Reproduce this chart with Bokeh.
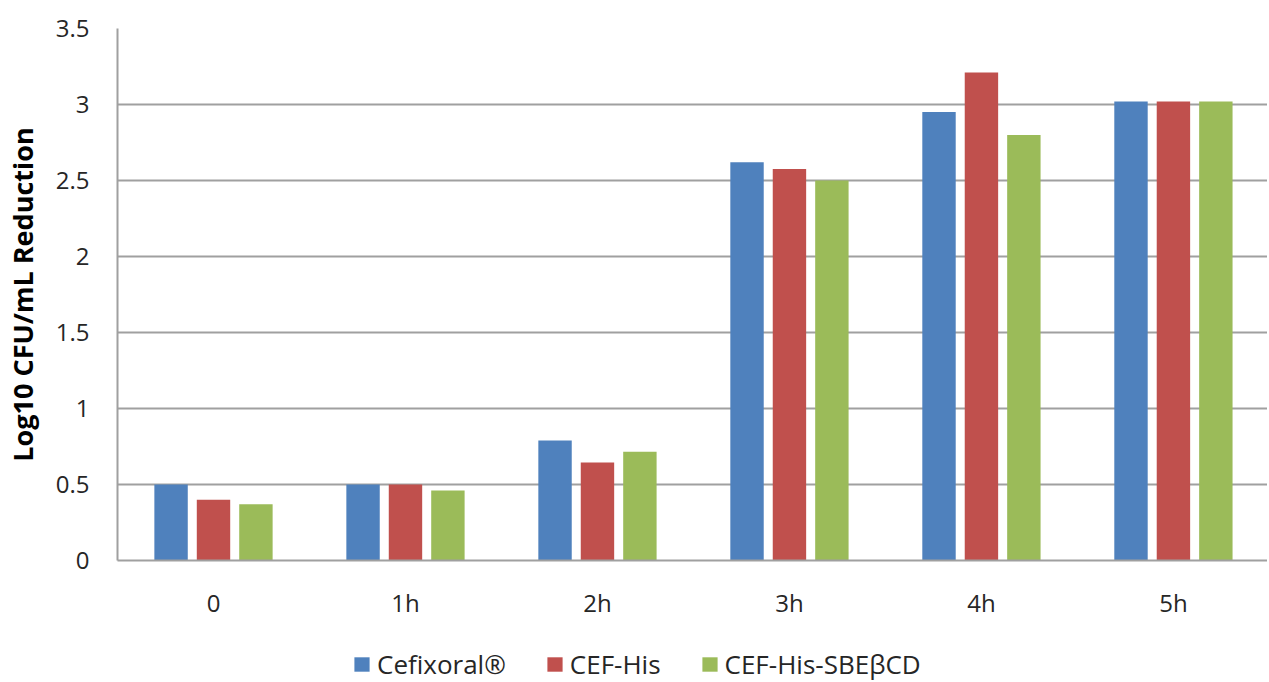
import numpy as np
from bokeh.plotting import figure
from bokeh.layouts import column
from bokeh.models import (ColumnDataSource, Range1d, FixedTicker, Legend, LegendItem)
from bokeh.embed import file_html
from bokeh.resources import INLINE

# ---- data ----
categories = ["0", "1h", "2h", "3h", "4h", "5h"]
series_names = ["Cefixoral\u00ae", "CEF-His", "CEF-His-SBE\u03b2CD"]
cefixoral = [0.50, 0.50, 0.79, 2.62, 2.95, 3.02]
cef_his = [0.40, 0.50, 0.645, 2.575, 3.21, 3.02]
cef_his_sbe = [0.37, 0.46, 0.715, 2.50, 2.80, 3.02]
y_ticks = [0, 0.5, 1, 1.5, 2, 2.5, 3, 3.5]

colors = ["#4F81BD", "#C0504D", "#9BBB59"]
FONT = "Open Sans"

p = figure(frame_width=1150, frame_height=532, output_backend="svg", toolbar_location=None,
           x_range=Range1d(0, 5.99), y_range=Range1d(0, 3.5),
           min_border_left=116, min_border_top=28, min_border_right=0,
           min_border_bottom=60)
p.outline_line_color = None
p.background_fill_color = "white"
p.border_fill_color = "white"

centers = np.arange(len(categories)) + 0.5
offsets = [-0.221, 0.0, 0.221]
for vals, col, off in zip([cefixoral, cef_his, cef_his_sbe], colors, offsets):
    src = ColumnDataSource(dict(x=centers + off, top=vals))
    p.vbar(x="x", top="top", width=0.174, bottom=0, source=src,
           fill_color=col, line_color=None)

# axes
p.xaxis.ticker = FixedTicker(ticks=list(centers))
p.xaxis.major_label_overrides = {float(c): lab for c, lab in zip(centers, categories)}
p.xaxis.major_tick_line_color = None
p.xaxis.minor_tick_line_color = None
p.xaxis.axis_line_color = "#a0a0a0"
p.xaxis.axis_line_width = 2
p.xaxis.major_label_text_font = FONT
p.xaxis.major_label_text_font_size = "24px"
p.xaxis.major_label_text_color = "#262626"
p.xaxis.major_label_standoff = 19

p.yaxis.ticker = FixedTicker(ticks=y_ticks)
p.yaxis.major_tick_line_color = None
p.yaxis.minor_tick_line_color = None
p.yaxis.axis_line_color = "#a0a0a0"
p.yaxis.axis_line_width = 2
p.yaxis.major_label_text_font = FONT
p.yaxis.major_label_text_font_size = "24px"
p.yaxis.major_label_text_color = "#262626"
p.yaxis.major_label_standoff = 22
p.yaxis.axis_label = "Log10 CFU/mL Reduction"
p.yaxis.axis_label_text_font = FONT
p.yaxis.axis_label_text_font_style = "bold"
p.yaxis.axis_label_text_font_size = "27px"
p.yaxis.axis_label_text_color = "black"
p.yaxis.axis_label_standoff = 12

p.xgrid.grid_line_color = None
p.ygrid.grid_line_color = "#a0a0a0"
p.ygrid.grid_line_width = 2

# ---- legend strip below the chart ----
lg = figure(width=1266, height=61, output_backend="svg", toolbar_location=None,
            x_range=Range1d(0, 1), y_range=Range1d(0, 1),
            x_axis_location=None, y_axis_location=None,
            min_border=0, outline_line_color=None)
lg.grid.visible = False
lg.border_fill_color = "white"
lg_renderers = []
for col in colors:
    # legend-swatch-only renderers (no visible data in this strip)
    lg_renderers.append(lg.vbar(x=[np.nan], top=[np.nan], width=0.1,
                                fill_color=col, line_color=None))

legend = Legend(items=[LegendItem(label=n, renderers=[r]) for n, r in zip(series_names, lg_renderers)],
                orientation="horizontal", location=(235, 0),
                label_text_font=FONT, label_text_font_size="26px",
                label_text_color="#262626",
                glyph_width=19, glyph_height=18, label_standoff=6, spacing=39,
                border_line_color=None, background_fill_alpha=0, margin=0, padding=0)
lg.add_layout(legend, "center")

layout = column(p, lg, spacing=0)
open("out.html", "w").write(file_html(layout, INLINE))
